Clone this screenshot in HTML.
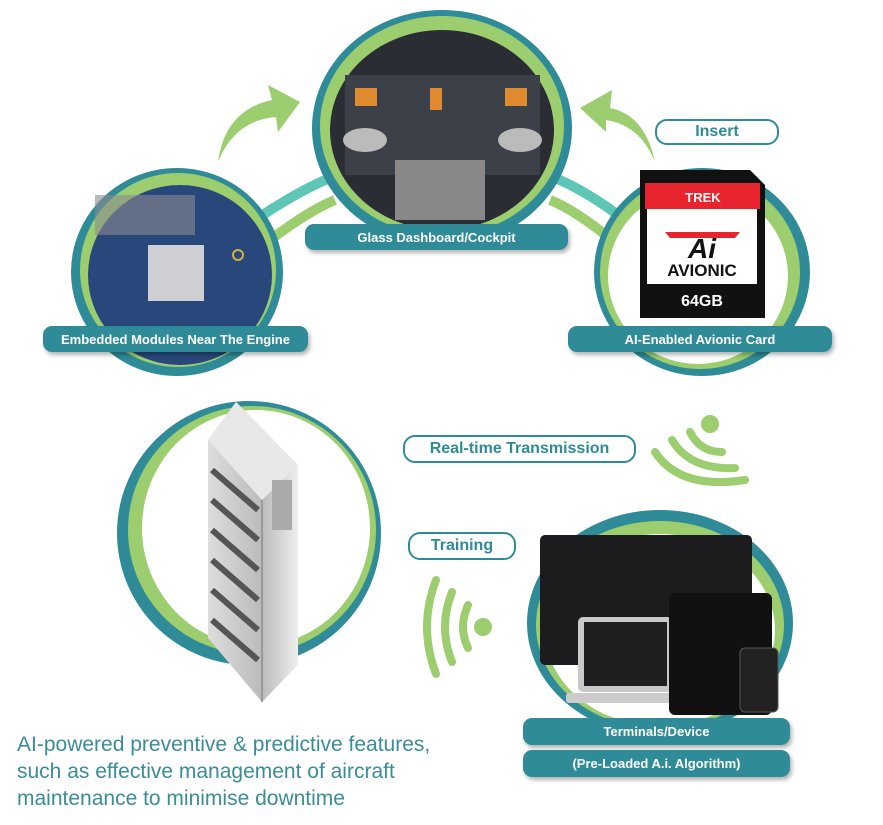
<!DOCTYPE html>
<html><head><style>
body{margin:0;background:#fff;width:883px;height:825px;overflow:hidden;position:relative;font-family:"Liberation Sans",sans-serif}
.pill{position:absolute;background:#2f8b97;color:#fff;font-weight:bold;font-size:13px;text-align:center;border-radius:9px;box-shadow:2px 3px 4px rgba(0,0,0,.3);display:flex;align-items:center;justify-content:center}
.opill{position:absolute;border:2px solid #2f8b97;color:#2f8b97;font-weight:bold;font-size:16px;border-radius:12px;display:flex;align-items:center;justify-content:center;background:#fff}
.txt{position:absolute;left:17px;top:731px;color:#3a8d98;font-size:21px;line-height:27px}
</style></head><body>
<svg width="883" height="825" style="position:absolute;left:0;top:0">
<defs>
<linearGradient id="srv" x1="0" x2="1"><stop offset="0" stop-color="#ddd"/><stop offset=".6" stop-color="#bbb"/><stop offset="1" stop-color="#eee"/></linearGradient>
</defs>
<path d="M255 220 Q300 190 330 178" stroke="#5ec6b4" stroke-width="10" fill="none"/>
<path d="M270 240 Q310 210 335 200" stroke="#9ccd6e" stroke-width="10" fill="none"/>
<path d="M625 220 Q585 190 555 178" stroke="#5ec6b4" stroke-width="10" fill="none"/>
<path d="M612 240 Q575 210 550 200" stroke="#9ccd6e" stroke-width="10" fill="none"/>
<path d="M218 162 Q225 110 272 100 L268 85 L300 102 L278 132 L276 117 Q235 120 218 162Z" fill="#9ccd6e"/>
<path d="M655 162 Q645 115 610 108 L612 90 L580 108 L606 132 L606 120 Q640 125 655 162Z" fill="#9ccd6e"/>
<ellipse cx="442" cy="128" rx="130" ry="118" fill="#2f8b97"/>
<ellipse cx="442" cy="126" rx="122" ry="110" fill="#9ccd6e"/>
<ellipse cx="442" cy="130" rx="112" ry="100" fill="#2a2d33"/>
<rect x="345" y="75" width="195" height="100" fill="#3c4048"/>
<rect x="355" y="88" width="22" height="18" fill="#e08a30"/><rect x="505" y="88" width="22" height="18" fill="#e08a30"/>
<rect x="430" y="88" width="12" height="22" fill="#e08a30"/>
<ellipse cx="365" cy="140" rx="22" ry="12" fill="#bbb"/><ellipse cx="520" cy="140" rx="22" ry="12" fill="#bbb"/>
<rect x="395" y="160" width="90" height="60" fill="#888"/>
<ellipse cx="177" cy="272" rx="106" ry="104" fill="#2f8b97"/>
<ellipse cx="178" cy="270" rx="98" ry="97" fill="#9ccd6e"/>
<ellipse cx="180" cy="275" rx="92" ry="90" fill="#28477a"/>
<rect x="148" y="245" width="56" height="56" fill="#cfcfd3"/>
<rect x="95" y="195" width="100" height="40" fill="#8a8a90" opacity=".6"/>
<circle cx="238" cy="255" r="5" fill="none" stroke="#d4b040" stroke-width="2"/>
<ellipse cx="702" cy="272" rx="108" ry="104" fill="#2f8b97"/>
<ellipse cx="700" cy="272" rx="100" ry="97" fill="#9ccd6e"/>
<ellipse cx="698" cy="276" rx="90" ry="88" fill="#fff"/>
<path d="M640 170 L750 170 L765 185 L765 318 L640 318 Z" fill="#111"/>
<rect x="645" y="183" width="115" height="26" fill="#e8252e"/>
<rect x="647" y="209" width="110" height="75" fill="#fff"/>
<text x="703" y="202" font-size="13" font-weight="bold" fill="#fff" text-anchor="middle" font-family="Liberation Sans">TREK</text>
<path d="M665 232 L740 232 L735 238 L670 238Z" fill="#e8252e"/>
<text x="702" y="258" font-size="28" font-weight="bold" fill="#111" text-anchor="middle" font-style="italic" font-family="Liberation Sans">Ai</text>
<text x="702" y="276" font-size="17" font-weight="bold" fill="#111" text-anchor="middle" font-family="Liberation Sans">AVIONIC</text>
<text x="702" y="306" font-size="16" font-weight="bold" fill="#fff" text-anchor="middle" font-family="Liberation Sans">64GB</text>
<ellipse cx="249" cy="533" rx="132" ry="132" fill="#2f8b97"/>
<ellipse cx="252" cy="530" rx="124" ry="124" fill="#9ccd6e"/>
<ellipse cx="256" cy="528" rx="114" ry="118" fill="#fff"/>
<path d="M236 402 L298 465 L298 665 L262 702 L208 638 L208 440Z" fill="url(#srv)"/>
<path d="M236 402 L298 465 L262 500 L208 440Z" fill="#e8e8e8"/>
<path d="M262 500 L262 702" stroke="#999" stroke-width="2"/>
<g stroke="#555" stroke-width="6">
<path d="M212 470 L258 510"/><path d="M212 500 L258 540"/><path d="M212 530 L258 570"/><path d="M212 560 L258 600"/><path d="M212 590 L258 630"/><path d="M212 620 L258 660"/>
</g>
<rect x="272" y="480" width="20" height="50" fill="#aaa"/>
<g fill="none" stroke="#9ccd6e" stroke-width="8" stroke-linecap="round">
<path d="M690 432 Q700 452 722 452"/><path d="M672 440 Q690 470 735 468"/><path d="M655 452 Q680 490 745 480"/>
</g><circle cx="710" cy="424" r="9" fill="#9ccd6e"/>
<g fill="none" stroke="#9ccd6e" stroke-width="8" stroke-linecap="round">
<path d="M468 605 Q458 627 468 648"/><path d="M452 592 Q438 627 452 662"/><path d="M436 580 Q418 627 436 674"/>
</g><circle cx="483" cy="627" r="9" fill="#9ccd6e"/>
<ellipse cx="660" cy="623" rx="133" ry="113" fill="#2f8b97"/>
<ellipse cx="660" cy="625" rx="124" ry="104" fill="#9ccd6e"/>
<ellipse cx="660" cy="630" rx="115" ry="96" fill="#fff"/>
<rect x="540" y="535" width="212" height="130" rx="5" fill="#1c1c1e"/>
<rect x="578" y="617" width="95" height="75" rx="5" fill="#c9c9cc"/><rect x="584" y="622" width="83" height="64" fill="#1f1f22"/>
<rect x="566" y="693" width="107" height="10" rx="3" fill="#ccc"/>
<rect x="669" y="593" width="103" height="122" rx="6" fill="#111"/>
<rect x="740" y="648" width="38" height="64" rx="5" fill="#222" stroke="#555"/>
</svg>
<div class="pill" style="left:305px;top:224px;width:263px;height:26px">Glass Dashboard/Cockpit</div>
<div class="pill" style="left:43px;top:326px;width:265px;height:26px">Embedded Modules Near The Engine</div>
<div class="pill" style="left:568px;top:326px;width:264px;height:26px">AI-Enabled Avionic Card</div>
<div class="opill" style="left:655px;top:119px;width:120px;height:22px">Insert</div>
<div class="opill" style="left:403px;top:435px;width:229px;height:24px">Real-time Transmission</div>
<div class="opill" style="left:408px;top:532px;width:104px;height:24px">Training</div>
<div class="pill" style="left:523px;top:718px;width:267px;height:27px">Terminals/Device</div>
<div class="pill" style="left:523px;top:750px;width:267px;height:27px">(Pre-Loaded A.i. Algorithm)</div>
<div class="txt">AI-powered preventive &amp; predictive features,<br>such as effective management of aircraft<br>maintenance to minimise downtime</div>
</body></html>
